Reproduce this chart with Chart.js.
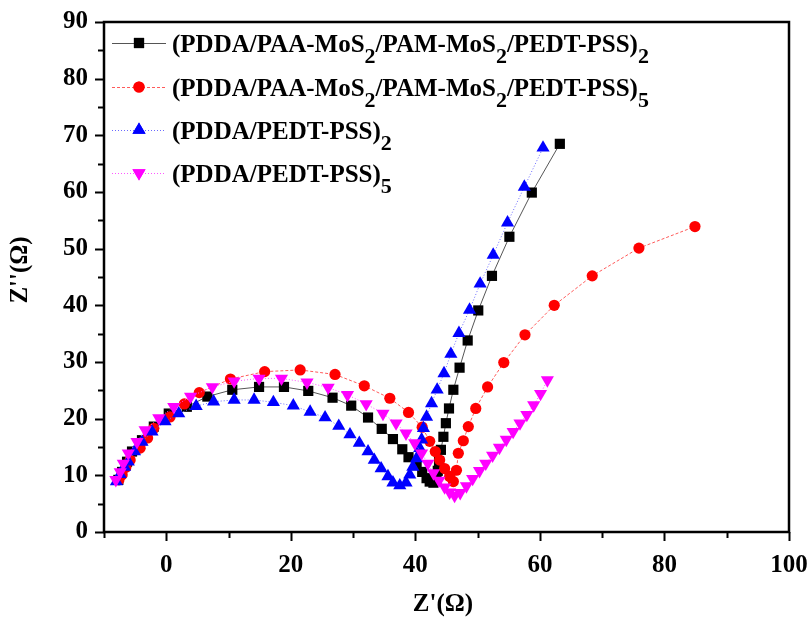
<!DOCTYPE html>
<html>
<head>
<meta charset="utf-8">
<script src="https://cdn.jsdelivr.net/npm/chart.js@4.4.1/dist/chart.umd.min.js"></script>
<style>
  html, body { margin: 0; padding: 0; background: #fff; }
  #wrap { width: 808px; height: 625px; }
</style>
</head>
<body>
<div id="wrap"><canvas id="nyquist"></canvas></div>
<script>
// Nyquist plots, Z' vs Z'' (ohm)
const seriesNames = [
  [['(PDDA/PAA-MoS', 0], ['2', 1], ['/PAM-MoS', 0], ['2', 1], ['/PEDT-PSS)', 0], ['2', 1]],
  [['(PDDA/PAA-MoS', 0], ['2', 1], ['/PAM-MoS', 0], ['2', 1], ['/PEDT-PSS)', 0], ['5', 1]],
  [['(PDDA/PEDT-PSS)', 0], ['2', 1]],
  [['(PDDA/PEDT-PSS)', 0], ['5', 1]]
];

const mos2Bi2 = [
  [-7.7, 9.2], [-7.1, 10.6], [-6.3, 12.4], [-5.5, 14.2], [-3.9, 16.2], [-2.0, 18.6], [0.4, 20.9],
  [3.3, 22.1], [6.6, 23.9], [10.6, 25.1], [14.9, 25.6], [18.9, 25.6], [22.8, 24.9], [26.7, 23.7],
  [29.7, 22.3], [32.4, 20.2], [34.6, 18.2], [36.4, 16.4], [37.9, 14.6], [38.9, 13.2], [40.2, 11.8],
  [41.1, 10.6], [41.8, 9.5], [42.3, 8.9], [42.9, 8.7], [43.4, 9.4], [43.6, 10.8], [43.8, 12.5],
  [44.1, 14.5], [44.5, 16.8], [44.9, 19.2], [45.4, 21.8], [46.1, 25.1], [47.1, 29.0], [48.4, 33.8],
  [50.1, 39.1], [52.3, 45.2], [55.1, 52.1], [58.7, 59.9], [63.2, 68.5]
];

const mos2Bi5 = [
  [-7.6, 9.2], [-7.1, 10.1], [-6.5, 11.4], [-5.8, 12.7], [-4.2, 14.8], [-3.0, 16.6], [-2.0, 18.3],
  [0.6, 20.3], [2.9, 22.6], [5.3, 24.6], [10.3, 27.0], [15.8, 28.3], [21.5, 28.6], [27.1, 27.8],
  [31.8, 25.8], [35.9, 23.6], [38.9, 21.1], [41.1, 18.5], [42.3, 16.0], [43.2, 14.2], [43.9, 12.7],
  [44.7, 11.2], [45.5, 9.8], [46.1, 8.9], [46.6, 10.9], [46.9, 13.9], [47.7, 16.1], [48.5, 18.6],
  [49.7, 21.8], [51.6, 25.6], [54.2, 29.9], [57.6, 34.8], [62.3, 40.0], [68.4, 45.2], [75.9, 50.1],
  [84.9, 53.9]
];

const pedotBi2 = [
  [-8.0, 8.9], [-7.4, 10.2], [-6.7, 11.5], [-6.1, 12.4], [-5.1, 14.2], [-3.9, 15.9], [-2.3, 17.7],
  [-0.2, 19.5], [2.0, 20.9], [4.8, 22.2], [7.6, 23.0], [10.9, 23.3], [14.1, 23.3], [17.2, 22.9],
  [20.4, 22.3], [23.1, 21.2], [25.5, 20.2], [27.7, 18.7], [29.5, 17.2], [31.0, 15.7], [32.4, 14.2],
  [33.4, 12.7], [34.5, 11.2], [35.6, 9.8], [36.4, 8.7], [37.5, 8.2], [38.5, 8.7], [39.1, 10.1],
  [39.6, 11.5], [40.2, 13.0], [40.7, 14.8], [41.0, 16.3], [41.3, 18.3], [41.8, 20.3], [42.6, 22.7],
  [43.5, 25.1], [44.6, 28.0], [45.7, 31.4], [47.0, 35.1], [48.7, 39.2], [50.4, 43.8], [52.5, 48.9],
  [54.8, 54.6], [57.5, 60.9], [60.5, 67.8]
];

const pedotBi5 = [
  [-8.1, 9.2], [-7.4, 10.6], [-6.9, 12.1], [-6.1, 13.9], [-4.7, 15.9], [-3.4, 18.0], [-1.2, 20.1],
  [1.2, 22.1], [3.9, 23.9], [7.4, 25.6], [10.9, 26.6], [14.9, 27.1], [18.5, 27.1], [22.6, 26.4],
  [26.0, 25.5], [29.1, 24.2], [32.1, 22.6], [34.8, 20.9], [36.9, 19.2], [38.5, 17.4], [39.9, 15.7],
  [41.0, 13.9], [42.0, 12.1], [42.9, 10.4], [43.8, 9.1], [44.7, 7.9], [45.5, 7.0], [46.3, 6.4],
  [47.2, 6.9], [48.2, 8.1], [49.2, 9.4], [50.3, 10.8], [51.3, 12.1], [52.4, 13.5], [53.5, 14.9],
  [54.6, 16.3], [55.7, 17.7], [56.8, 19.2], [57.9, 20.7], [59.0, 22.4], [60.1, 24.4], [61.2, 26.8]
];

const xTickLabels = [0, 20, 40, 60, 80, 100];
const yTickLabels = [0, 10, 20, 30, 40, 50, 60, 70, 80, 90];

const SERIF = '"Liberation Serif", "Times New Roman", serif';
const toXY = (pts) => pts.map(([x, y]) => ({ x, y }));

const styles = [
  { line: '#555', fill: '#000', dash: [], shape: 'rect', r: 7.2, rot: 0 },
  { line: '#ff5a5a', fill: '#ff0000', dash: [3, 2], shape: 'circle', r: 5.6, rot: 0 },
  { line: '#6a6aff', fill: '#0000ff', dash: [1, 2], shape: 'triangle', r: 7.6, rot: 0 },
  { line: '#ff55ff', fill: '#ff00ff', dash: [1, 2], shape: 'triangle', r: 7.6, rot: 180 }
];

function makeSet(pts, s, order) {
  return {
    data: toXY(pts),
    showLine: true,
    borderColor: s.line,
    borderWidth: 1,
    borderDash: s.dash,
    pointStyle: s.shape,
    pointRadius: s.r,
    pointHoverRadius: s.r,
    pointRotation: s.rot,
    pointBackgroundColor: s.fill,
    pointBorderColor: s.fill,
    pointBorderWidth: 0,
    tension: 0,
    order
  };
}

// frame, outward major/minor ticks, axis titles and legend with subscripts
const decorations = {
  id: 'decorations',
  afterDraw(chart) {
    const { ctx, chartArea: a, scales } = chart;
    const xs = scales.x, ys = scales.y;
    ctx.save();
    ctx.strokeStyle = '#000';
    ctx.lineWidth = 2;
    ctx.beginPath();
    xs.ticks.forEach((t) => {
      const px = Math.round(xs.getPixelForValue(t.value)) + 0.5;
      const len = t.value % 20 === 0 ? 9 : 6;
      ctx.moveTo(px, a.bottom);
      ctx.lineTo(px, a.bottom + len);
    });
    ys.ticks.forEach((t) => {
      const py = Math.round(ys.getPixelForValue(t.value)) + 0.5;
      const len = t.value % 10 === 0 ? 9 : 6;
      ctx.moveTo(a.left, py);
      ctx.lineTo(a.left - len, py);
    });
    ctx.stroke();
    ctx.lineWidth = 2.5;
    ctx.strokeRect(a.left, a.top, a.right - a.left, a.bottom - a.top);

    ctx.fillStyle = '#000';
    ctx.font = 'bold 25px ' + SERIF;
    ctx.textAlign = 'center';
    ctx.textBaseline = 'middle';
    ctx.fillText("Z'(\u03A9)", 443, 605);
    ctx.save();
    ctx.translate(21, 270);
    ctx.rotate(-Math.PI / 2);
    ctx.fillText("Z''(\u03A9)", 0, 0);
    ctx.restore();

    // legend
    const rows = [43, 87, 130, 173];
    chart.data.datasets.forEach((ds, i) => {
      const s = styles[i];
      const y = rows[i];
      ctx.save();
      ctx.strokeStyle = s.line;
      ctx.lineWidth = 1;
      ctx.setLineDash(s.dash);
      ctx.beginPath();
      ctx.moveTo(112, y + 0.5);
      ctx.lineTo(166, y + 0.5);
      ctx.stroke();
      ctx.restore();
      ctx.fillStyle = s.fill;
      Chart.helpers.drawPoint(ctx, { pointStyle: s.shape, rotation: s.rot, radius: s.r, borderWidth: 0 }, 139, y);
      ctx.fill();

      let x = 172;
      ctx.textAlign = 'left';
      ctx.textBaseline = 'alphabetic';
      ctx.fillStyle = '#000';
      seriesNames[i].forEach(([txt, sub]) => {
        ctx.font = (sub ? 'bold 22px ' : 'bold 25px ') + SERIF;
        ctx.fillText(txt, x, y + 9 + (sub ? 11 : 0));
        x += ctx.measureText(txt).width;
      });
    });
    ctx.restore();
  }
};

new Chart(document.getElementById('nyquist'), {
  type: 'scatter',
  data: {
    datasets: [
      makeSet(mos2Bi2, styles[0], 3),
      makeSet(mos2Bi5, styles[1], 2),
      makeSet(pedotBi2, styles[2], 1),
      makeSet(pedotBi5, styles[3], 0)
    ]
  },
  options: {
    responsive: true,
    maintainAspectRatio: false,
    animation: false,
    layout: { padding: { top: 22, right: 19, left: 0, bottom: 0 } },
    plugins: { legend: { display: false }, tooltip: { enabled: false } },
    scales: {
      x: {
        type: 'linear',
        min: -10,
        max: 100,
        grid: { display: false },
        border: { display: false },
        afterFit: (s) => { s.height = 93; s.paddingLeft = 0; s.paddingRight = 0; },
        ticks: {
          stepSize: 10,
          autoSkip: false,
          maxRotation: 0,
          padding: 11,
          color: '#000',
          font: { family: SERIF, size: 25, weight: 'bold' },
          callback: (v) => (xTickLabels.includes(v) ? String(v) : '')
        }
      },
      y: {
        type: 'linear',
        min: 0,
        max: 90,
        grid: { display: false },
        border: { display: false },
        afterFit: (s) => { s.width = 104; s.paddingTop = 0; s.paddingBottom = 0; },
        ticks: {
          stepSize: 5,
          autoSkip: false,
          padding: 8,
          color: '#000',
          font: { family: SERIF, size: 25, weight: 'bold' },
          callback: (v) => (yTickLabels.includes(v) ? String(v) : '')
        }
      }
    }
  },
  plugins: [decorations]
});
</script>
</body>
</html>
